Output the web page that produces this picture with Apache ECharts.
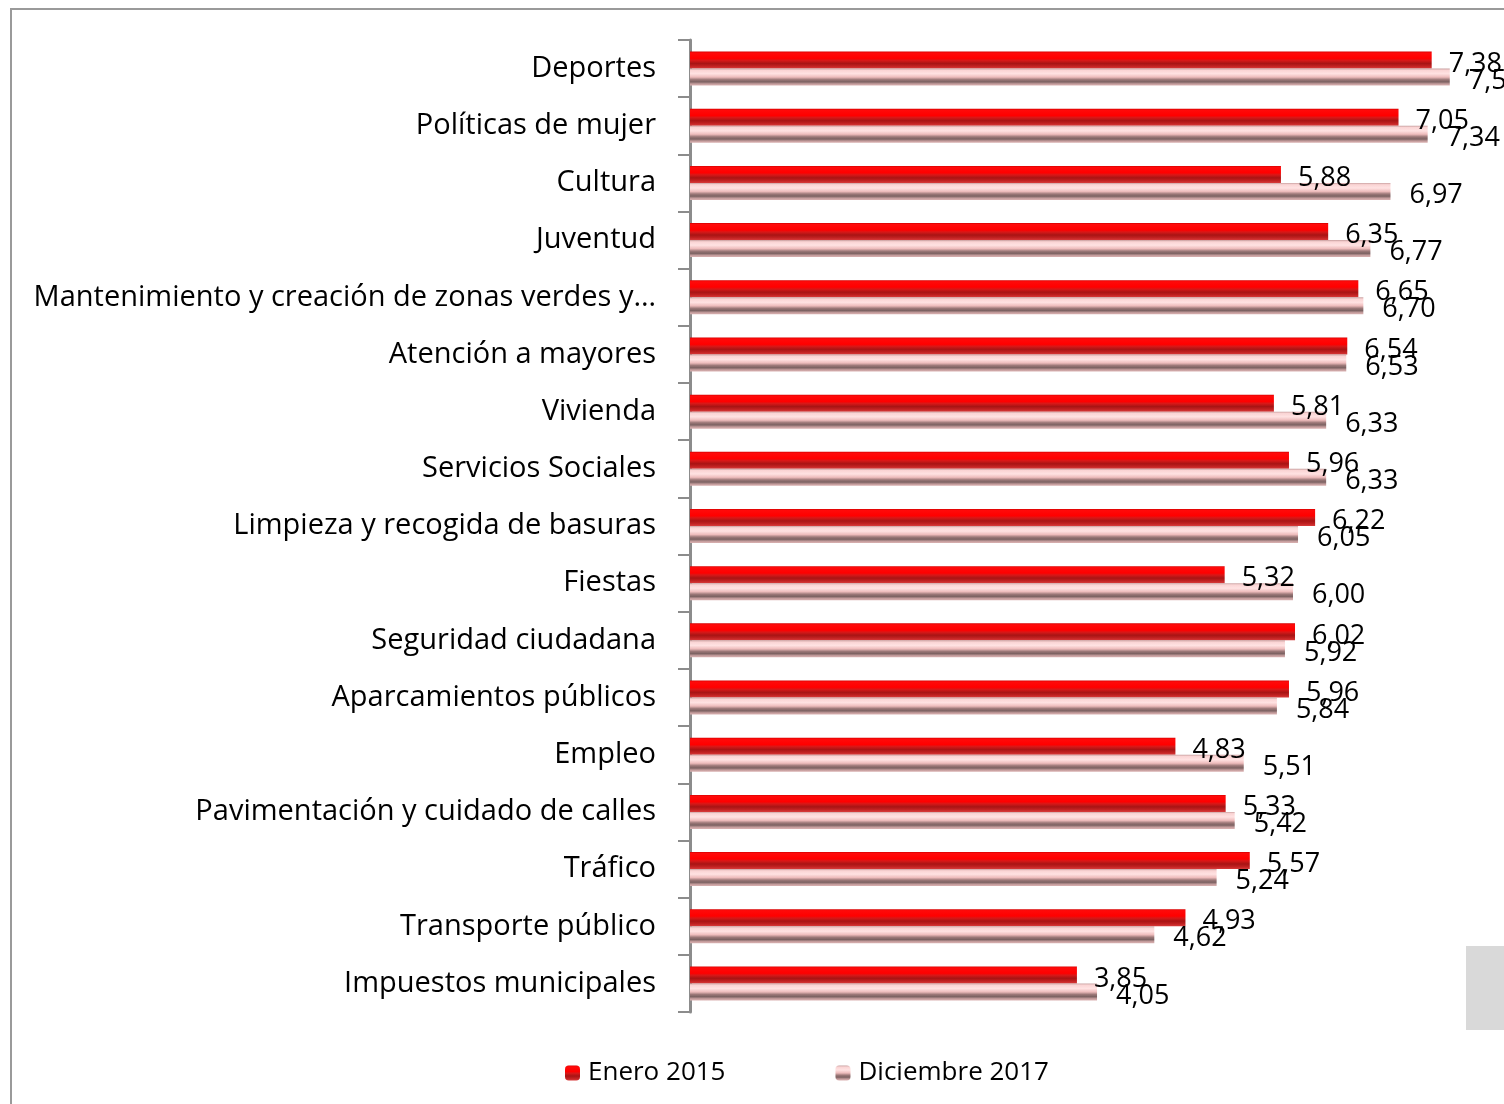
<!DOCTYPE html>
<html>
<head>
<meta charset="utf-8">
<script src="https://cdn.jsdelivr.net/npm/echarts@6/dist/echarts.min.js"></script>
<style>
  html, body { margin: 0; padding: 0; background: #fff; }
  #chart { width: 1504px; height: 1104px; }
</style>
</head>
<body>
<div id="chart"></div>
<script>
  var categories = [
    'Deportes', 'Políticas de mujer', 'Cultura', 'Juventud',
    'Mantenimiento y creación de zonas verdes y…', 'Atención a mayores',
    'Vivienda', 'Servicios Sociales', 'Limpieza y recogida de basuras',
    'Fiestas', 'Seguridad ciudadana', 'Aparcamientos públicos', 'Empleo',
    'Pavimentación y cuidado de calles', 'Tráfico', 'Transporte público',
    'Impuestos municipales'
  ];
  var enero2015 = [7.38, 7.05, 5.88, 6.35, 6.65, 6.54, 5.81, 5.96, 6.22, 5.32, 6.02, 5.96, 4.83, 5.33, 5.57, 4.93, 3.85];
  var diciembre2017 = [7.56, 7.34, 6.97, 6.77, 6.70, 6.53, 6.33, 6.33, 6.05, 6.00, 5.92, 5.84, 5.51, 5.42, 5.24, 4.62, 4.05];

  var font = '"Open Sans", "DejaVu Sans", sans-serif';

  function fmt(p) {
    return p.value.toFixed(2).replace('.', ',');
  }

  var redFill = new echarts.graphic.LinearGradient(0, 0, 0, 1, [
    { offset: 0, color: '#d40000' },
    { offset: 0.08, color: '#ff0a0a' },
    { offset: 0.4, color: '#ff0000' },
    { offset: 0.52, color: '#d81818' },
    { offset: 0.7, color: '#a81414' },
    { offset: 0.85, color: '#c02020' },
    { offset: 1, color: '#d83a3a' }
  ]);
  var pinkFill = new echarts.graphic.LinearGradient(0, 0, 0, 1, [
    { offset: 0, color: '#c8a0a0' },
    { offset: 0.1, color: '#fad4d4' },
    { offset: 0.3, color: '#ffe2e2' },
    { offset: 0.5, color: '#eebcbc' },
    { offset: 0.65, color: '#9c7878' },
    { offset: 0.78, color: '#7c6262' },
    { offset: 0.9, color: '#c49c9c' },
    { offset: 1, color: '#dab2b2' }
  ]);

  var chart = echarts.init(document.getElementById('chart'));
  chart.setOption({
    animation: false,
    textStyle: { fontFamily: font },
    graphic: [
      {
        type: 'rect',
        shape: { x: 11, y: 9, width: 1700, height: 1300 },
        style: { fill: 'none', stroke: '#9a9a9a', lineWidth: 2 },
        silent: true
      },
      {
        type: 'rect',
        shape: { x: 1466, y: 946, width: 40, height: 84 },
        style: { fill: '#d9d9d9' },
        silent: true
      }
    ],
    legend: {
      left: 560,
      top: 1055,
      itemWidth: 15,
      itemHeight: 15,
      itemGap: 110,
      textStyle: { fontSize: 26, color: '#000', fontFamily: font, padding: [0, 0, 0, 3] },
      data: ['Enero 2015', 'Diciembre 2017']
    },
    grid: {
      left: 690,
      right: 10,
      top: 40,
      bottom: 92,
      containLabel: false
    },
    xAxis: {
      type: 'value',
      min: 0,
      max: 8,
      show: false
    },
    yAxis: {
      type: 'category',
      inverse: true,
      data: categories,
      axisLine: { show: true, lineStyle: { color: '#8c8c8c', width: 3 } },
      axisTick: { show: true, length: 12, lineStyle: { color: '#8c8c8c', width: 2 } },
      axisLabel: { fontSize: 29, color: '#000', margin: 34, fontFamily: font }
    },
    series: [
      {
        name: 'Enero 2015',
        type: 'bar',
        data: enero2015,
        barWidth: 17,
        barGap: '0%',
        itemStyle: { color: redFill },
        label: {
          show: true,
          position: 'right',
          distance: 17,
          offset: [0, 4],
          fontSize: 27,
          color: '#000',
          fontFamily: font,
          formatter: fmt
        }
      },
      {
        name: 'Diciembre 2017',
        type: 'bar',
        data: diciembre2017,
        barWidth: 17,
        itemStyle: { color: pinkFill },
        label: {
          show: true,
          position: 'right',
          distance: 19,
          offset: [0, 4],
          fontSize: 27,
          color: '#000',
          fontFamily: font,
          formatter: fmt
        }
      }
    ]
  });
</script>
</body>
</html>
